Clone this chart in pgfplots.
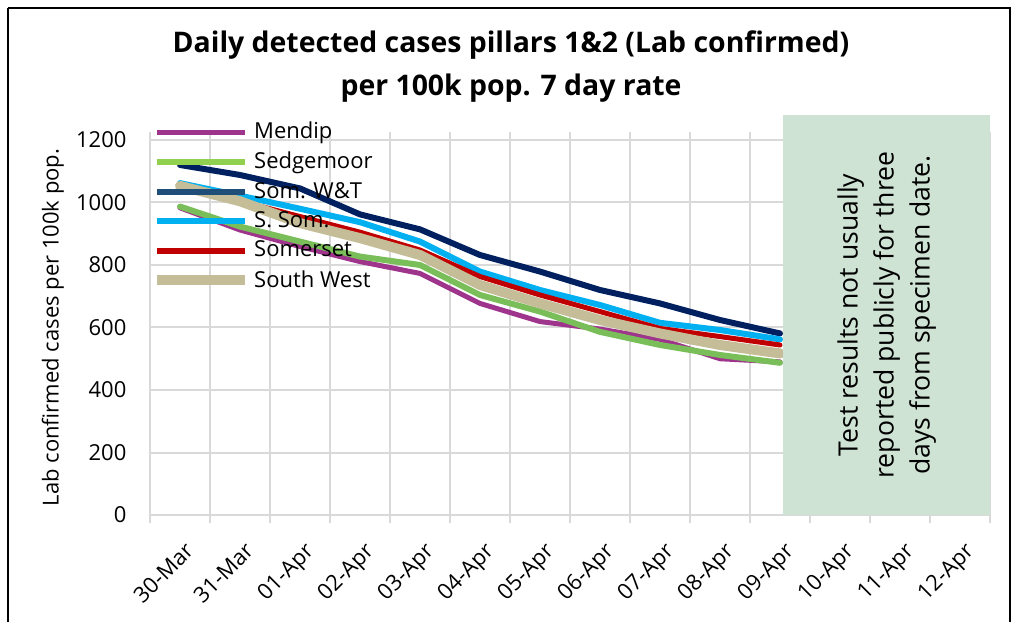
\documentclass[border=0pt]{standalone}
\usepackage{pgfplots}
\pgfplotsset{compat=1.18}
\usepackage{fontspec}
\setmainfont{Open Sans}
\definecolor{cMendip}{RGB}{158,52,140}
\definecolor{cSedge}{RGB}{122,190,90}
\definecolor{cSedgeL}{RGB}{146,208,80}
\definecolor{cSWT}{RGB}{0,32,96}
\definecolor{cSWTL}{RGB}{31,78,121}
\definecolor{cSSom}{RGB}{0,176,240}
\definecolor{cSom}{RGB}{192,0,0}
\definecolor{cSW}{RGB}{196,189,151}
\definecolor{cBox}{RGB}{207,227,212}
\definecolor{cGrid}{RGB}{217,217,217}
\begin{document}
\begin{tikzpicture}
\useasboundingbox (0,0) rectangle (508pt,310.5pt);
\draw[line width=1pt,black] (4pt,306.5pt) -- (505pt,306.5pt) -- (505pt,-5pt);
\draw[line width=1pt,black] (4pt,306.5pt) -- (4pt,-5pt);
\node[align=center,font=\fontsize{14.2pt}{21.5pt}\selectfont\bfseries] at (255.5pt,277pt)
  {Daily detected cases pillars 1\&2 (Lab confirmed)\\per 100k pop. 7 day rate};
\begin{axis}[
  at={(75pt,53pt)}, anchor=south west,
  scale only axis, width=420pt, height=187.5pt,
  xmin=-0.5, xmax=13.5, ymin=0, ymax=1200,
  clip=false,
  axis line style={cGrid, line width=1pt},
  xtick={0,...,13},
  xticklabels={30-Mar,31-Mar,01-Apr,02-Apr,03-Apr,04-Apr,05-Apr,06-Apr,07-Apr,08-Apr,09-Apr,10-Apr,11-Apr,12-Apr},
  major x tick style={draw=none},
  minor xtick={-0.5,0.5,...,13.5},
  xminorgrids=true,
  minor x tick style={cGrid, line width=1pt},
  minor tick length=4pt,
  tick align=outside,
  ytick={0,200,...,1200},
  ymajorgrids=true,
  major y tick style={draw=none},
  grid style={cGrid, line width=1pt},
  minor grid style={cGrid, line width=1pt},
  xticklabel style={rotate=45, anchor=north east, font=\fontsize{11pt}{13pt}\selectfont, xshift=-1.5pt, yshift=-4pt},
  yticklabel style={font=\fontsize{11pt}{13pt}\selectfont, xshift=-4pt},
  /pgf/number format/assume math mode=true,
  /pgf/number format/1000 sep={},
  ylabel={Lab confirmed cases per 100k pop.},
  ylabel style={font=\fontsize{11pt}{13pt}\selectfont, at={(axis description cs:-0.094,0.5)}, anchor=south},
  legend style={at={(-0.005,1.07)}, anchor=north west, draw=none, fill=none,
    font=\fontsize{11pt}{13pt}\selectfont, row sep=1.2pt,
    /tikz/every even column/.append style={column sep=0pt}},
  legend cell align=left,
  legend image code/.code={\draw[#1, line cap=butt] (0pt,0pt) -- (44pt,0pt);},
  every axis plot/.append style={line join=round, line cap=round},
]
\addplot[cMendip, line width=2.5pt, forget plot] coordinates {(0,983)(1,912)(2,859)(3,811)(4,773)(5,677)(6,619)(7,595)(8,562)(9,500)(10,490)};
\addplot[cSedge, line width=3pt, forget plot] coordinates {(0,987)(1,923)(2,875)(3,827)(4,800)(5,704)(6,651)(7,586)(8,544)(9,512)(10,487)};
\addplot[cSWT, line width=3pt, forget plot] coordinates {(0,1120)(1,1088)(2,1045)(3,962)(4,914)(5,832)(6,779)(7,720)(8,677)(9,624)(10,581)};
\addplot[cSSom, line width=3pt, forget plot] coordinates {(0,1062)(1,1022)(2,980)(3,937)(4,875)(5,779)(6,720)(7,672)(8,615)(9,592)(10,562)};
\addplot[cSom, line width=2.5pt, forget plot] coordinates {(0,1050)(1,1005)(2,955)(3,905)(4,848)(5,763)(6,704)(7,651)(8,597)(9,571)(10,544)};
\addplot[cSW, line width=5pt, forget plot] coordinates {(0,1053)(1,1004)(2,934)(3,886)(4,832)(5,736)(6,677)(7,624)(8,581)(9,544)(10,517)};
\addlegendimage{cMendip, line width=2.5pt}\addlegendentry{Mendip}
\addlegendimage{cSedgeL, line width=3pt}\addlegendentry{Sedgemoor}
\addlegendimage{cSWTL, line width=3pt}\addlegendentry{Som. W\&T}
\addlegendimage{cSSom, line width=3pt}\addlegendentry{S. Som.}
\addlegendimage{cSom, line width=3pt}\addlegendentry{Somerset}
\addlegendimage{cSW, line width=5pt}\addlegendentry{South West}
\fill[cBox] (axis cs:10.05,0) rectangle (axis cs:13.5,1280);
\node[rotate=90, align=center, font=\fontsize{13.3pt}{18pt}\selectfont] at (axis cs:11.78,640)
  {Test results not usually\\reported publicly for three\\days from specimen date.};
\end{axis}
\end{tikzpicture}
\end{document}
